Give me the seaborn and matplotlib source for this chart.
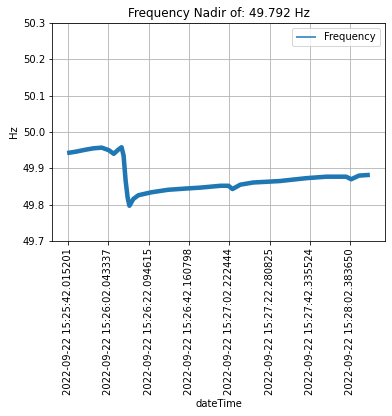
import matplotlib
matplotlib.use("Agg")
import matplotlib.pyplot as plt
import seaborn as sns
import pandas as pd

DAY = "2022-09-22 "
times = [
    "15:25:41.5", "15:25:46.0", "15:25:50.4", "15:25:54.5", "15:25:58.7",
    "15:26:02.2", "15:26:04.7", "15:26:07.1", "15:26:08.6", "15:26:09.6",
    "15:26:10.6", "15:26:11.6", "15:26:12.5", "15:26:14.5", "15:26:17.0",
    "15:26:23.4", "15:26:31.8", "15:26:39.6", "15:26:48.0", "15:26:57.9",
    "15:27:01.8", "15:27:03.8", "15:27:07.7", "15:27:14.1", "15:27:27.4",
    "15:27:32.3", "15:27:40.7", "15:27:50.6", "15:28:00.4", "15:28:02.9",
    "15:28:06.8", "15:28:12.2",
]
frequency = [
    49.942, 49.946, 49.951, 49.955, 49.957,
    49.950, 49.940, 49.952, 49.958, 49.935,
    49.867, 49.820, 49.797, 49.816, 49.826,
    49.834, 49.841, 49.844, 49.847, 49.852,
    49.852, 49.843, 49.855, 49.861, 49.865,
    49.868, 49.873, 49.877, 49.877, 49.870,
    49.880, 49.882,
]
tick_labels = [
    "2022-09-22 15:25:42.015201", "2022-09-22 15:26:02.043337",
    "2022-09-22 15:26:22.094615", "2022-09-22 15:26:42.160798",
    "2022-09-22 15:27:02.222444", "2022-09-22 15:27:22.280825",
    "2022-09-22 15:27:42.335524", "2022-09-22 15:28:02.383650",
]
title = "Frequency Nadir of: 49.792 Hz"

df = pd.DataFrame({"dateTime": pd.to_datetime([DAY + t for t in times]),
                   "Frequency": frequency})

plt.rcParams["font.family"] = ["DejaVu Sans"]
plt.rcParams["font.size"] = 10
fig = plt.figure(figsize=(392 / 72, 416 / 72), dpi=72)
ax = fig.add_axes([52 / 392, 1 - 241 / 416, 333 / 392, 218 / 416])

sns.lineplot(data=df, x="dateTime", y="Frequency", ax=ax, color="#1f77b4",
             linewidth=4.5, label="Frequency", solid_capstyle="butt")

ax.set_ylim(49.7, 50.3)
ax.set_yticks([49.7, 49.8, 49.9, 50.0, 50.1, 50.2, 50.3])
ax.set_xticks(pd.to_datetime(tick_labels))
ax.set_xticklabels(tick_labels, rotation=90)
ax.grid(True, color="#b0b0b0", linewidth=0.8)
ax.set_axisbelow(True)
ax.set_xlabel("dateTime")
ax.set_ylabel("Hz")
ax.set_title(title, fontsize=12)
leg = ax.legend(loc="upper right")
for line in leg.get_lines():
    line.set_linewidth(1.5)

fig.savefig("out.png", dpi=72, facecolor="white")
